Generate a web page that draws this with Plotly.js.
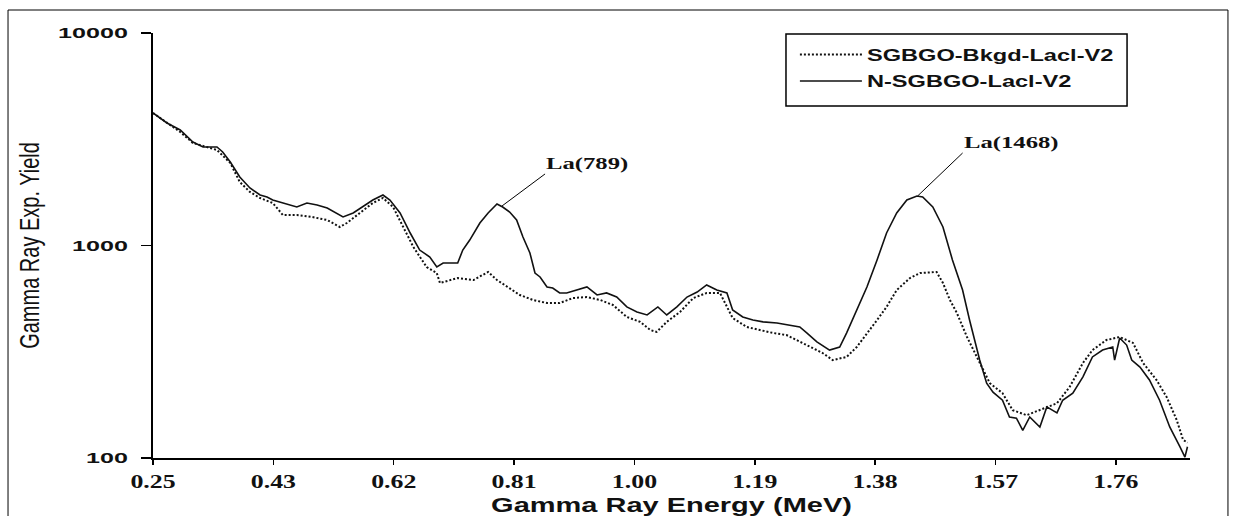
<!DOCTYPE html>
<html><head><meta charset="utf-8">
<script src="https://cdn.plot.ly/plotly-3.0.1.min.js"></script>
<style>html,body{margin:0;padding:0;background:#fff;} #chart{width:1235px;height:516px;}</style>
</head><body><div id="chart"></div>
<script>
const seriesNames = ['SGBGO-Bkgd-Lacl-V2', 'N-SGBGO-Lacl-V2'];

const energyBkgd = [0.240,0.283,0.303,0.341,0.362,0.377,0.393,0.409,0.429,0.445,0.467,0.491,0.515,0.535,0.546,0.567,0.587,0.603,0.619,0.635,0.651,0.672,0.688,0.693,0.721,0.746,0.769,0.783,0.799,0.819,0.840,0.862,0.882,0.903,0.925,0.946,0.966,0.988,1.009,1.025,1.035,1.051,1.072,1.093,1.114,1.135,1.155,1.177,1.198,1.218,1.240,1.256,1.277,1.297,1.313,1.335,1.351,1.367,1.383,1.398,1.414,1.435,1.451,1.477,1.487,1.498,1.509,1.525,1.545,1.561,1.581,1.597,1.619,1.640,1.667,1.687,1.708,1.723,1.745,1.766,1.787,1.803,1.824,1.840,1.856,1.866,1.873];
const yieldBkgd = [4203,3421,3037,2814,2445,1990,1786,1673,1585,1392,1392,1362,1318,1222,1276,1422,1585,1673,1518,1222,984,792,742,666,703,688,751,688,638,585,554,536,536,566,572,554,525,461,437,400,392,437,487,566,598,598,456,414,400,388,379,359,333,312,289,299,333,388,446,514,617,703,742,751,666,554,481,371,280,225,202,168,159,168,181,216,280,322,359,371,348,280,233,194,151,122,118];

const energyN = [0.240,0.262,0.283,0.303,0.319,0.341,0.350,0.362,0.377,0.393,0.409,0.420,0.429,0.445,0.467,0.483,0.499,0.515,0.530,0.540,0.556,0.571,0.587,0.603,0.614,0.630,0.646,0.661,0.677,0.688,0.698,0.721,0.729,0.740,0.756,0.769,0.783,0.792,0.803,0.814,0.824,0.835,0.843,0.851,0.862,0.871,0.882,0.893,0.909,0.925,0.941,0.956,0.972,0.988,1.004,1.020,1.037,1.051,1.067,1.083,1.099,1.114,1.130,1.146,1.155,1.171,1.187,1.203,1.225,1.245,1.261,1.272,1.288,1.308,1.324,1.335,1.351,1.367,1.383,1.398,1.414,1.430,1.446,1.455,1.471,1.487,1.502,1.518,1.529,1.545,1.556,1.566,1.581,1.592,1.603,1.613,1.624,1.640,1.651,1.667,1.676,1.692,1.708,1.723,1.739,1.755,1.758,1.766,1.777,1.785,1.798,1.813,1.829,1.845,1.861,1.869,1.873];
const yieldN = [4203,3772,3496,3070,2907,2907,2754,2472,2101,1865,1728,1691,1637,1585,1518,1585,1551,1501,1422,1362,1422,1518,1637,1728,1637,1422,1145,952,883,792,827,827,952,1061,1276,1422,1568,1518,1438,1318,1096,922,742,711,638,631,598,598,617,638,585,598,572,514,487,471,514,471,514,572,604,652,617,598,497,461,446,437,432,423,414,388,352,322,333,388,497,638,855,1145,1422,1637,1710,1691,1518,1222,855,617,446,289,225,204,187,156,154,135,156,140,174,163,187,202,241,299,322,333,289,367,340,289,268,233,187,140,113,101,113];

const xTickVals = [0.24, 0.43, 0.62, 0.81, 1.00, 1.19, 1.38, 1.57, 1.76];
const xTickText = ['0.25', '0.43', '0.62', '0.81', '1.00', '1.19', '1.38', '1.57', '1.76'];
const yTickVals = [100, 1000, 10000];
const yTickText = ['100', '1000', '10000'];

const peakLabels = ['La(789)', 'La(1468)'];
const peakEnergy = [0.791, 1.447];
const peakYield = [1535, 1710];

const traces = [
  {x: energyBkgd, y: yieldBkgd, name: seriesNames[0], type: 'scatter', mode: 'lines',
   legendgroup: 'a', line: {color: '#111', width: 2, dash: '2px,2px'}},
  {x: energyN, y: yieldN, name: seriesNames[1], type: 'scatter', mode: 'lines',
   legendgroup: 'b', line: {color: '#111', width: 1.6}}
];

const sans = 'Liberation Sans, Arial, sans-serif';
const serif = 'Liberation Serif, Times New Roman, serif';

const layout = {
  width: 1235, height: 516,
  margin: {l: 153, r: 45, t: 33, b: 58},
  paper_bgcolor: '#fff', plot_bgcolor: '#fff',
  showlegend: true,
  legend: {x: 0.619, y: 0.99, xanchor: 'left', yanchor: 'top', bgcolor: 'rgba(0,0,0,0)',
           borderwidth: 0, itemwidth: 62, tracegroupgap: 2,
           font: {family: sans, size: 16.5, color: '#111', weight: 'bold'}},
  xaxis: {range: [0.24, 1.877], showgrid: false, zeroline: false,
          showline: true, linecolor: '#000', linewidth: 2,
          ticks: 'outside', ticklen: 5, tickwidth: 1.5, tickcolor: '#000',
          tickvals: xTickVals, ticktext: xTickText,
          tickfont: {family: serif, size: 19, color: '#111', weight: 'bold'},
          title: {text: 'Gamma Ray Energy (MeV)', standoff: 7,
                  font: {family: sans, size: 21, color: '#111', weight: 'bold'}}},
  yaxis: {type: 'log', range: [2, 4], showgrid: false, zeroline: false,
          showline: true, linecolor: '#000', linewidth: 2,
          ticks: 'outside', ticklen: 10, tickwidth: 1.5, tickcolor: '#000',
          tickvals: yTickVals, ticktext: yTickText, ticklabelstandoff: 10,
          tickfont: {family: sans, size: 15.5, color: '#111', weight: 'bold'},
          title: {text: 'Gamma Ray Exp. Yield', standoff: 40,
                  font: {family: sans, size: 20, color: '#111'}}},
  annotations: peakLabels.map(function (t, i) {
    return {x: peakEnergy[i], y: Math.log10(peakYield[i]), xref: 'x', yref: 'y', text: t,
            showarrow: true, arrowhead: 0, arrowwidth: 1, arrowcolor: '#000',
            ax: i === 0 ? 43 : 45, ay: i === 0 ? -32 : -43,
            xanchor: 'left', yanchor: 'bottom', align: 'left', borderpad: 0,
            font: {family: serif, size: 17, color: '#111', weight: 'bold'}};
  }),
  shapes: [
    {type: 'rect', xref: 'paper', yref: 'paper', x0: -0.1398, x1: 1.0366, y0: -0.2, y1: 1.0541,
     line: {color: '#000', width: 1}, fillcolor: 'rgba(0,0,0,0)'},
    {type: 'rect', xref: 'paper', yref: 'paper', x0: 0.6104, x1: 0.9393, y0: 0.8282, y1: 0.9976,
     line: {color: '#000', width: 1.5}, fillcolor: 'rgba(0,0,0,0)'}
  ]
};

function stretchText(gd) {
  const groups = [
    ['.ytick text', 1.62],
    ['.xtick text', 1.36],
    ['.g-xtitle text', 1.38],
    ['.legendtext', 1.43],
    ['.annotation-text', 1.45]
  ];
  groups.forEach(function (g) {
    gd.querySelectorAll(g[0]).forEach(function (t) {
      const w = t.getComputedTextLength();
      if (w > 0) {
        t.setAttribute('textLength', (w * g[1]).toFixed(1));
        t.setAttribute('lengthAdjust', 'spacingAndGlyphs');
      }
    });
  });
  gd.querySelectorAll('.legend [clip-path], .legend').forEach(function (e) {
    e.removeAttribute('clip-path');
  });
  const yt = gd.querySelector('.g-ytitle text');
  if (yt) {
    const cx = parseFloat(yt.getAttribute('x'));
    const tr = yt.getAttribute('transform') || '';
    yt.setAttribute('transform', 'translate(' + cx + ',0) scale(1.4,1) translate(' + (-cx) + ',0) ' + tr);
  }
}

Plotly.newPlot('chart', traces, layout, {displayModeBar: false, staticPlot: true})
  .then(stretchText);
</script></body></html>
